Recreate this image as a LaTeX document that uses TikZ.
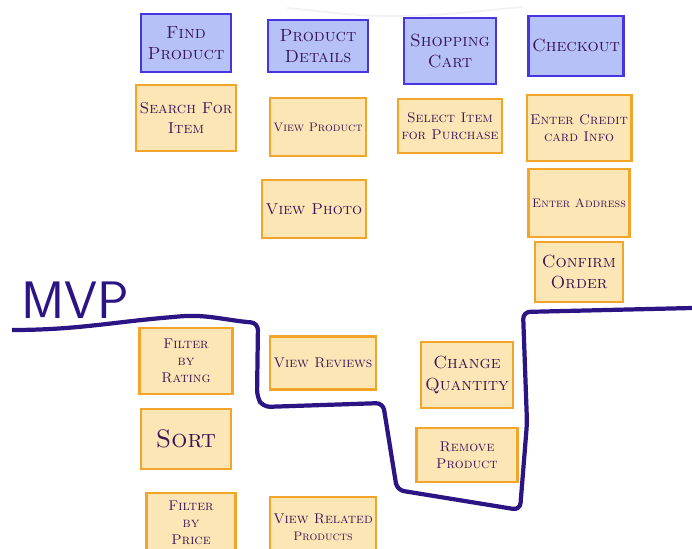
\documentclass[tikz,border=0pt]{standalone}
\usetikzlibrary{positioning}

\definecolor{epicfill}{HTML}{B5C1F7}
\definecolor{epicdraw}{HTML}{4536E0}
\definecolor{storyfill}{HTML}{FCE6B6}
\definecolor{storydraw}{HTML}{F2A52A}
\definecolor{ink}{HTML}{3A1656}
\definecolor{mvpink}{HTML}{2C1484}

\tikzstyle{epic} = [
        rectangle,
        minimum width=1.8cm,
        minimum height=1.2cm,
        inner xsep=2pt,
        align=center,
        fill=epicfill,
        draw=epicdraw,
        line width=1.3pt,
        text=ink,
        font=\scshape,
    ]
\tikzstyle{story} = [
        rectangle,
        minimum width=1.8cm,
        minimum height=1.2cm,
        inner xsep=2pt,
        align=center,
        fill=storyfill,
        draw=storydraw,
        line width=1.3pt,
        text=ink,
        font=\scshape,
        % line width = 0.5cm,
    ]
\tikzstyle{cutline} = [line width=2.4pt, draw=mvpink, rounded corners=4pt]

\begin{document}
\begin{tikzpicture}[node distance=1.5cm]
            \path [use as bounding box, clip] (0,0) rectangle (13.84,-10.98);
            \draw [gray!10, line width=1pt] (5.74,-0.16) to[out=-5,in=180] (7.8,-0.32) to[out=0,in=185] (10.46,-0.14);
            \node [epic, minimum height=1.16cm] (find) at (3.72,-0.86) {Find\\Product};
            \node [epic, minimum width=2cm, minimum height=1.04cm] (details) at (6.36,-0.92) {Product\\Details};
            \node [epic, minimum width=1.84cm, minimum height=1.32cm] (cart) at (9.0,-1.02) {Shopping\\Cart};
            \node [epic] (checkout) at (11.52,-0.92) {Checkout};
            \node [story, below of=find, minimum width=2cm, minimum height=1.32cm, font=\small\scshape] (search) {Search For\\Item};
            \node [story, below of=details, yshift=-0.12cm, minimum height=1.16cm, font=\scriptsize\scshape] (viewproduct) {View Product};
            \node [story, below of=viewproduct, xshift=-0.08cm, yshift=-0.14cm, minimum height=1.16cm, font=\small\scshape] (viewphoto) {View Photo};
            \node [story, below of=cart, minimum width=1.96cm, minimum height=1.08cm, font=\footnotesize\scshape] (select) {Select Item\\for Purchase};
            \node [story, below of=checkout, xshift=0.06cm, yshift=-0.14cm, minimum width=1.84cm, minimum height=1.32cm, font=\footnotesize\scshape] (credit) {Enter Credit\\card Info};
            \node [story, below of=credit, minimum width=1.84cm, minimum height=1.36cm, font=\scriptsize\scshape] (address) {Enter Address};
            \node [story, below of=address, yshift=0.12cm, minimum width=1.76cm] (confirm) {Confirm\\Order};
            \node [font=\sffamily\fontsize{30}{32}\selectfont, text=mvpink] (mvp) at (1.5,-6.0) {MVP};
            \node [story, minimum width=1.86cm, minimum height=1.32cm, font=\footnotesize\scshape] (rating) at (3.72,-7.22) {Filter\\by\\Rating};
            \node [story, minimum width=2.02cm, minimum height=1.06cm, font=\footnotesize\scshape] (reviews) at (6.46,-7.26) {View Reviews};
            \node [story, below of=rating, yshift=-0.06cm, font=\Large\scshape] (sort) {Sort};
            \node [story, below of=sort, xshift=0.1cm, yshift=-0.18cm, minimum width=1.78cm, font=\footnotesize\scshape] (price) {Filter\\by\\Price};
            \node [story, minimum width=2cm, font=\footnotesize\scshape] (related) at (6.46,-10.54) {View Related\\{\scriptsize Products}};
            \node [story, minimum width=1.84cm, minimum height=1.32cm] (quantity) at (9.34,-7.5) {Change\\Quantity};
            \node [story, below of=quantity, yshift=-0.1cm, minimum width=2.02cm, minimum height=1.08cm, font=\footnotesize\scshape] (remove) {Remove\\Product};
            \draw [cutline] (0.24,-6.6) to[out=0,in=185] (3.46,-6.34) to[out=5,in=175] (5.16,-6.46) -- (5.14,-7.94) -- (5.26,-8.14) -- (7.66,-8.06) -- (7.94,-9.8) -- (10.4,-10.2) -- (10.54,-8.46) -- (10.46,-6.24) -- (13.84,-6.16);
        \end{tikzpicture}
\end{document}
